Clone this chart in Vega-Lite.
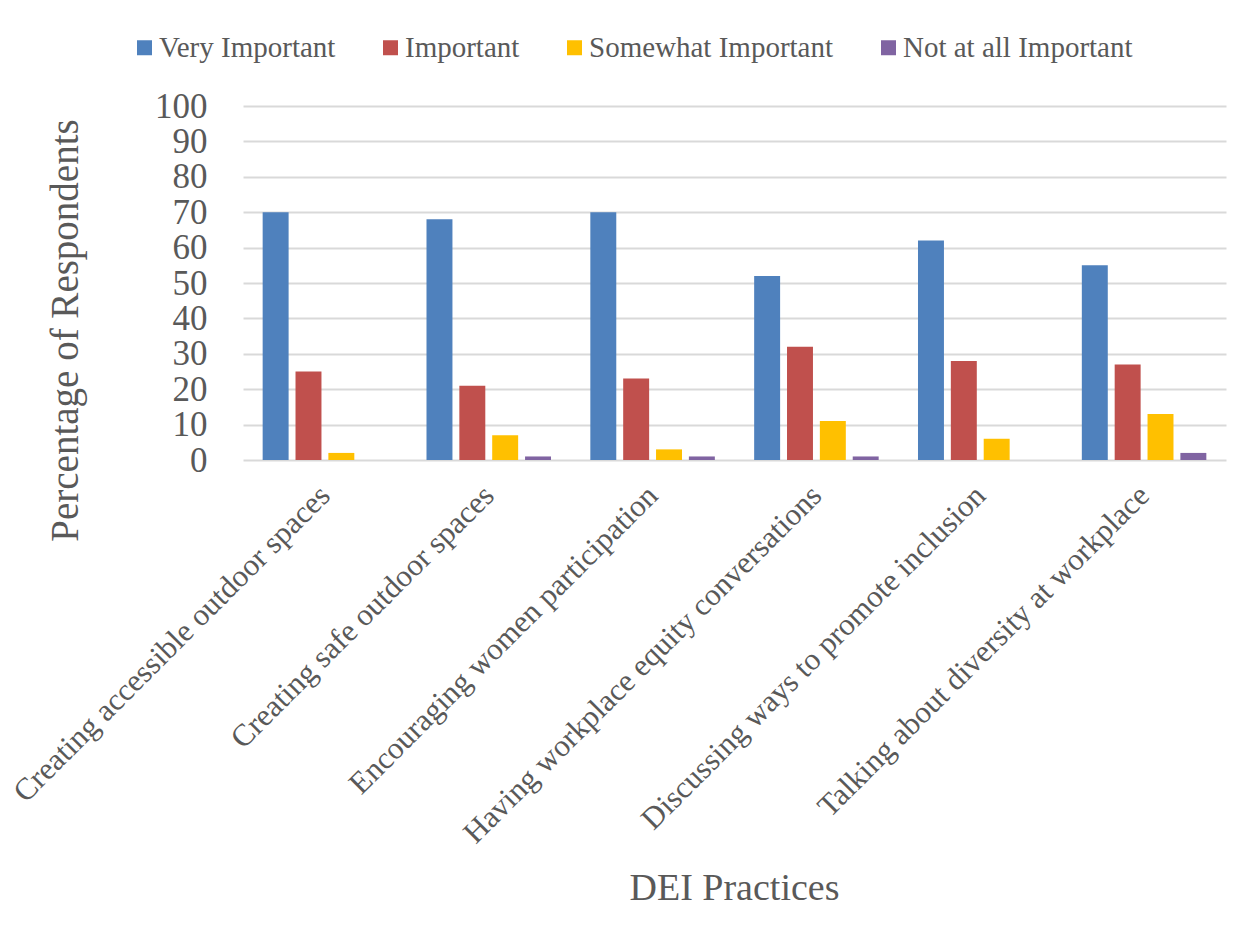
{
  "$schema": "https://vega.github.io/schema/vega-lite/v6.json",
  "width": 983,
  "height": 354,
  "autosize": {"type": "none"},
  "padding": {"left": 243, "top": 106, "right": 27, "bottom": 478},
  "background": "white",
  "config": {
    "font": "Liberation Serif",
    "view": {"stroke": null},
    "axis": {
      "labelFont": "Liberation Serif",
      "titleFont": "Liberation Serif",
      "labelColor": "#595959",
      "titleColor": "#595959",
      "titleFontWeight": "normal",
      "domain": false,
      "ticks": false,
      "tickSize": 0
    },
    "legend": {
      "labelFont": "Liberation Serif",
      "labelColor": "#595959"
    }
  },
  "data": {
    "values": [
      {"practice": "Creating accessible outdoor spaces", "rating": "Very Important", "pct": 70},
      {"practice": "Creating accessible outdoor spaces", "rating": "Important", "pct": 25},
      {"practice": "Creating accessible outdoor spaces", "rating": "Somewhat Important", "pct": 2},
      {"practice": "Creating accessible outdoor spaces", "rating": "Not at all Important", "pct": 0},
      {"practice": "Creating safe outdoor spaces", "rating": "Very Important", "pct": 68},
      {"practice": "Creating safe outdoor spaces", "rating": "Important", "pct": 21},
      {"practice": "Creating safe outdoor spaces", "rating": "Somewhat Important", "pct": 7},
      {"practice": "Creating safe outdoor spaces", "rating": "Not at all Important", "pct": 1},
      {"practice": "Encouraging women participation", "rating": "Very Important", "pct": 70},
      {"practice": "Encouraging women participation", "rating": "Important", "pct": 23},
      {"practice": "Encouraging women participation", "rating": "Somewhat Important", "pct": 3},
      {"practice": "Encouraging women participation", "rating": "Not at all Important", "pct": 1},
      {"practice": "Having workplace equity conversations", "rating": "Very Important", "pct": 52},
      {"practice": "Having workplace equity conversations", "rating": "Important", "pct": 32},
      {"practice": "Having workplace equity conversations", "rating": "Somewhat Important", "pct": 11},
      {"practice": "Having workplace equity conversations", "rating": "Not at all Important", "pct": 1},
      {"practice": "Discussing ways to promote inclusion", "rating": "Very Important", "pct": 62},
      {"practice": "Discussing ways to promote inclusion", "rating": "Important", "pct": 28},
      {"practice": "Discussing ways to promote inclusion", "rating": "Somewhat Important", "pct": 6},
      {"practice": "Discussing ways to promote inclusion", "rating": "Not at all Important", "pct": 0},
      {"practice": "Talking about diversity at workplace", "rating": "Very Important", "pct": 55},
      {"practice": "Talking about diversity at workplace", "rating": "Important", "pct": 27},
      {"practice": "Talking about diversity at workplace", "rating": "Somewhat Important", "pct": 13},
      {"practice": "Talking about diversity at workplace", "rating": "Not at all Important", "pct": 2}
    ]
  },
  "mark": {"type": "bar"},
  "encoding": {
    "x": {
      "field": "practice",
      "type": "nominal",
      "sort": null,
      "scale": {"paddingInner": 0.24, "paddingOuter": 0.12},
      "axis": {
        "title": "DEI Practices",
        "titleFontSize": 38,
        "titleX": 491,
        "titleY": 439,
        "titleBaseline": "alphabetic",
        "titleAlign": "center",
        "labelAngle": -45,
        "labelAlign": "right",
        "labelBaseline": "top",
        "labelFontSize": 31,
        "labelPadding": 20,
        "labelOffset": -10,
        "labelLimit": 0,
        "labelOverlap": false
      }
    },
    "xOffset": {
      "field": "rating",
      "type": "nominal",
      "sort": ["Very Important", "Important", "Somewhat Important", "Not at all Important"],
      "scale": {"paddingInner": 0.21, "paddingOuter": 0}
    },
    "y": {
      "field": "pct",
      "type": "quantitative",
      "scale": {"domain": [0, 100], "nice": false},
      "axis": {
        "title": "Percentage of Respondents",
        "titleFontSize": 39,
        "titleAngle": -90,
        "titleX": -166,
        "titleY": 224,
        "titleAlign": "center",
        "titleBaseline": "alphabetic",
        "values": [0, 10, 20, 30, 40, 50, 60, 70, 80, 90, 100],
        "labelFontSize": 35,
        "labelPadding": 36,
        "labelBaseline": "middle",
        "labelOverlap": false,
        "grid": true,
        "gridColor": "#D9D9D9",
        "gridWidth": 2
      }
    },
    "color": {
      "field": "rating",
      "type": "nominal",
      "scale": {
        "domain": ["Very Important", "Important", "Somewhat Important", "Not at all Important"],
        "range": ["#4F81BD", "#C0504D", "#FFC000", "#8064A2"]
      },
      "legend": {
        "title": null,
        "orient": "none",
        "direction": "horizontal",
        "legendX": -113,
        "legendY": -73,
        "padding": 0,
        "symbolType": "square",
        "symbolSize": 225,
        "symbolStrokeWidth": 0,
        "symbolOpacity": 1,
        "labelFontSize": 29,
        "labelOffset": 0,
        "columnPadding": 40,
        "labelLimit": 0
      }
    }
  }
}
